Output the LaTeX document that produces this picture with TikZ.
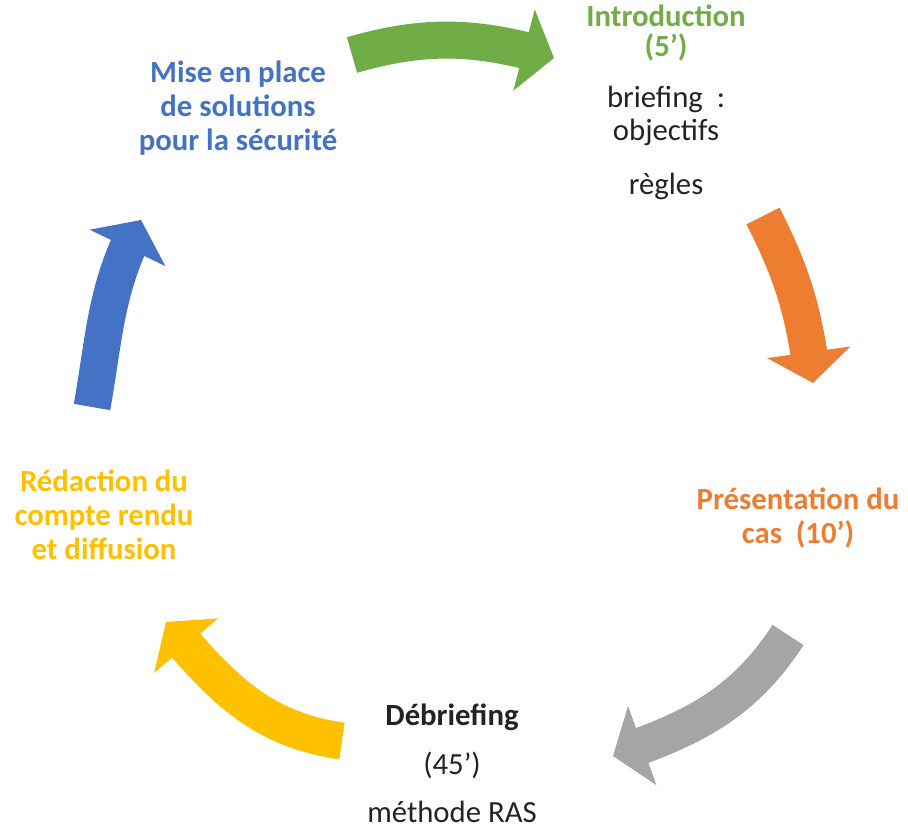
\documentclass[tikz,border=0pt]{standalone}
\usepackage{fontspec}
\setmainfont{Carlito}
\usepackage{tikz}
\usetikzlibrary{arrows.meta,bending,positioning}
\definecolor{cgreen}{RGB}{112,173,71}
\definecolor{corange}{RGB}{237,125,49}
\definecolor{cgray}{RGB}{165,165,165}
\definecolor{cyellow}{RGB}{255,192,0}
\definecolor{cblue}{RGB}{68,114,196}
\definecolor{ctext}{RGB}{35,35,35}

\begin{document}
\begin{tikzpicture}[x=0.2mm,y=0.2mm,inner sep=0pt]
        \tikzset{bigarrow/.style={line width=7.4mm,-{Triangle[length=6.2mm,width=16.8mm,line width=0pt,flex]}}}
        \tikzset{phase/.style={align=center,font=\bfseries\fontsize{17.5}{19.5}\selectfont}}
        \tikzset{note/.style={align=center,text=ctext,font=\fontsize{17.5}{18.5}\selectfont}}
        \tikzset{one/.style={text height=12.5pt,text depth=4pt}}

        \useasboundingbox (0,0) rectangle (908,829);

        \node [phase,text=cblue] (secu) at (238,721) {Mise en place\\de solutions\\pour la sécurité};
        \node [phase,text=cgreen,font=\bfseries\fontsize{17.5}{17}\selectfont] (intro) at (666,796) {Introduction\\(5')};
        \node [note] (brief) at (666,713) {briefing\ \ :\\objectifs};
        \node [note,one] (regles) at (666,642) {règles};
        \node [phase,text=corange] (cas) at (798,311) {Présentation du\\cas\ \ (10')};
        \node [phase,text=cyellow] (redac) at (104,314) {Rédaction du\\compte rendu\\et diffusion};
        \node [phase,one,text=ctext] (debrief) at (452,111) {Débriefing};
        \node [note,one,below=3.8mm of debrief] (duree) {(45')};
        \node [note,one,below=3.8mm of duree] (ras) {méthode RAS};

        \coordinate (g-start) at (352,774);
        \coordinate (g-end) at (554,771);
        \coordinate (o-start) at (763,613);
        \coordinate (o-end) at (813,446);
        \coordinate (x-start) at (788,194);
        \coordinate (x-end) at (613,73);
        \coordinate (y-start) at (342,88);
        \coordinate (y-end) at (166,207);
        \coordinate (b-start) at (92,422);
        \coordinate (b-end) at (141,609);

        \draw [bigarrow,cgreen] (g-start) to[out=16,in=164] (g-end);
        \draw [bigarrow,corange] (o-start) to[out=-63,in=97] (o-end);
        \draw [bigarrow,cgray] (x-start) to[out=-123,in=19] (x-end);
        \draw [bigarrow,cyellow] (y-start) to[out=172,in=-50] (y-end);
        \draw [bigarrow,cblue] (b-start) to[out=80,in=-118] (b-end);

    \end{tikzpicture}
\end{document}
